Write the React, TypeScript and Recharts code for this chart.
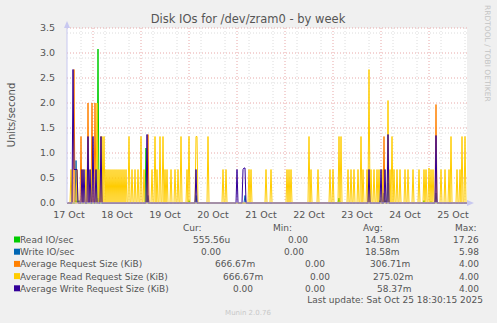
import React from 'react'
import { LineChart, Line, XAxis, YAxis, CartesianGrid } from 'recharts'

// x is a 30-minute slot counted from 17 Oct 11:00 (400 slots = one week view)
const slotCount = 400

const dayTicks = [2, 50, 98, 146, 194, 242, 290, 338, 386]
const dayLabels = ['17 Oct', '18 Oct', '19 Oct', '20 Oct', '21 Oct', '22 Oct', '23 Oct', '24 Oct', '25 Oct']
const yTicks = [0, 0.5, 1, 1.5, 2, 2.5, 3, 3.5]

// [slot, value] spikes, everything else sits at 0
const readIo: [number, number][] = [
  [9, 0.05], [11, 0.03], [31, 3.08], [79, 1.1], [122, 0.05], [272, 0.1],
  [313, 0.05], [318, 0.05], [357, 0.05], [364, 0.03],
]
const writeIo: [number, number][] = [
  [9, 0.85], [10, 0.05], [12, 0.05], [31, 0.1], [81, 0.15], [129, 0.15],
  [178, 0.15], [317, 0.2], [321, 0.4], [369, 0.2],
]
const avgReqSize: [number, number][] = [
  [7, 2.67], [14, 1.33], [21, 2.0], [25, 2.0], [28, 2.0], [34, 1.33],
  [81, 1.37], [317, 1.33], [369, 1.97],
]
const avgReadSize: [number, number][] = [
  [4, 0.67], [10, 0.67], [16, 0.67], [19, 0.67], [24, 0.67], [30, 2.0], [32, 0.67],
  [35, 1.33], [37, 1.33], [39, 0.67], [41, 0.67], [43, 0.67], [45, 0.67], [47, 0.67],
  [49, 0.67], [51, 0.67], [53, 0.67], [55, 0.67], [57, 0.67], [59, 0.67], [62, 1.33],
  [65, 0.67], [68, 0.67], [71, 0.67], [74, 1.33], [77, 0.67], [85, 0.67], [88, 1.33],
  [90, 0.67], [93, 1.33], [96, 1.33], [98, 0.67], [100, 0.67], [104, 0.67], [108, 0.67],
  [111, 0.67], [114, 1.33], [120, 0.67], [122, 1.33], [129, 1.33], [130, 1.33],
  [141, 1.33], [156, 0.67], [159, 0.67], [182, 0.67], [184, 0.67], [199, 0.67],
  [204, 0.67], [220, 0.67], [222, 0.67], [224, 0.67], [242, 1.33], [244, 0.67],
  [251, 0.67], [263, 0.67], [266, 0.67], [272, 1.33], [274, 1.33], [281, 0.67],
  [284, 0.67], [287, 0.67], [291, 0.67], [294, 1.33], [296, 0.67], [300, 0.67],
  [302, 2.67], [304, 0.67], [307, 0.67], [310, 0.67], [312, 0.67], [315, 0.67],
  [321, 2.05], [323, 0.67], [325, 1.33], [327, 0.67], [330, 0.67], [333, 0.67],
  [338, 0.67], [341, 0.67], [346, 0.67], [352, 0.67], [357, 0.67], [359, 0.67],
  [362, 0.7], [364, 0.67], [366, 0.67], [374, 0.67], [378, 0.67], [382, 0.67],
  [384, 1.33], [390, 0.67], [393, 0.67], [395, 1.33], [398, 1.33],
]
const avgWriteSize: [number, number][] = [
  [6, 2.67], [7, 0.67], [8, 0.67], [9, 0.67], [10, 0.67], [15, 0.67], [17, 0.67],
  [21, 1.33], [23, 0.67], [26, 1.33], [29, 0.67], [34, 1.33], [80, 1.37], [129, 0.67],
  [170, 0.67], [176, 0.67], [177, 0.7], [178, 0.7], [302, 0.67], [314, 0.67],
  [318, 0.67], [321, 1.37], [369, 1.35],
]

const legendRows = [
  { name: 'Read IO/sec', color: '#00cc00', cur: '555.56u', min: '0.00', avg: '14.58m', max: '17.26', xs: [193, 288, 365, 453] },
  { name: 'Write IO/sec', color: '#0066b3', cur: '0.00', min: '0.00', avg: '18.58m', max: '5.98', xs: [201, 284, 365, 459] },
  { name: 'Average Request Size (KiB)', color: '#ff8000', cur: '666.67m', min: '0.00', avg: '306.71m', max: '4.00', xs: [215, 305, 370, 459] },
  { name: 'Average Read Request Size (KiB)', color: '#ffcc00', cur: '666.67m', min: '0.00', avg: '275.02m', max: '4.00', xs: [223, 310, 373, 459] },
  { name: 'Average Write Request Size (KiB)', color: '#330099', cur: '0.00', min: '0.00', avg: '58.37m', max: '4.00', xs: [233, 305, 377, 459] },
]

const toMap = (pts: [number, number][]) => new Map(pts)
const mRead = toMap(readIo)
const mWrite = toMap(writeIo)
const mReq = toMap(avgReqSize)
const mReadReq = toMap(avgReadSize)
const mWriteReq = toMap(avgWriteSize)

const data = Array.from({ length: slotCount + 1 }, (_, s) => ({
  s,
  read: mRead.get(s) ?? 0,
  write: mWrite.get(s) ?? 0,
  req: mReq.get(s) ?? 0,
  readReq: mReadReq.get(s) ?? 0,
  writeReq: mWriteReq.get(s) ?? 0,
}))

// grid positions
const minorY: number[] = []
for (let i = 1; i <= 35; i++) if (i % 5 !== 0) minorY.push(i / 10)
const majorY = [0.5, 1, 1.5, 2, 2.5, 3, 3.5]
const minorX: number[] = []
for (let s = 2; s <= slotCount; s += 12) if ((s - 26) % 48 !== 0) minorX.push(s)
const majorX = [26, 74, 122, 170, 218, 266, 314, 362]

const txt = '#555'

export default function App() {
  return (
    <div style={{ position: 'relative', width: 497, height: 323, background: '#f0f0f0', fontFamily: 'DejaVu Sans' }}>
      <style>{'body{margin:0}'}</style>
      <LineChart width={497} height={323} data={data} margin={{ top: 28, right: 30, bottom: 100, left: 27 }}>
        <CartesianGrid fill="#ffffff" stroke="#dcdcdc" strokeDasharray="1 2"
          horizontalValues={minorY} verticalValues={minorX} />
        <CartesianGrid fill="none" stroke="#e8a8a8" strokeDasharray="1 2"
          horizontalValues={majorY} verticalValues={majorX} />
        <XAxis dataKey="s" type="number" domain={[0, slotCount]} ticks={dayTicks}
          tickFormatter={(v: number) => dayLabels[dayTicks.indexOf(v)] ?? ''}
          tickLine={false} axisLine={{ stroke: '#c8c8f0' }} height={20} tickMargin={2}
          tick={{ fill: txt, fontSize: 9.5 }} allowDataOverflow />
        <YAxis type="number" domain={[0, 3.5]} ticks={yTicks} width={40}
          tickFormatter={(v: number) => v.toFixed(1)} tickLine={false}
          axisLine={{ stroke: '#c8c8f0' }} tickMargin={6} tick={{ fill: txt, fontSize: 9.5 }} />
        <Line dataKey="read" stroke="#00cc00" strokeWidth={1} dot={false} isAnimationActive={false} />
        <Line dataKey="write" stroke="#0066b3" strokeWidth={1} dot={false} isAnimationActive={false} />
        <Line dataKey="req" stroke="#ff8000" strokeWidth={1} dot={false} isAnimationActive={false} />
        <Line dataKey="readReq" stroke="#ffcc00" strokeWidth={1} dot={false} isAnimationActive={false} />
        <Line dataKey="writeReq" stroke="#330099" strokeWidth={1} dot={false} isAnimationActive={false} />
      </LineChart>
      <svg width={497} height={323} style={{ position: 'absolute', left: 0, top: 0, pointerEvents: 'none' }}>
        <polygon points="64,28 67,21 70,28" fill="#c8c8f0" />
        <polygon points="467,200 474,203 467,206" fill="#c8c8f0" />
        <text x={248} y={23} textAnchor="middle" fontSize={11.5} fill={txt}>Disk IOs for /dev/zram0 - by week</text>
        <text transform="translate(15,115) rotate(-90)" textAnchor="middle" fontSize={10} fill={txt}>Units/second</text>
        <text transform="translate(485,5) rotate(90)" fontSize={7.5} fill="#c4c4c4">RRDTOOL / TOBI OETIKER</text>
        <text x={183} y={231} fontSize={9} fill={txt}>Cur:</text>
        <text x={273} y={231} fontSize={9} fill={txt}>Min:</text>
        <text x={363} y={231} fontSize={9} fill={txt}>Avg:</text>
        <text x={455} y={231} fontSize={9} fill={txt}>Max:</text>
        {legendRows.map((r, i) => {
          const y = 243 + i * 12.2
          return (
            <g key={r.name}>
              <rect x={14} y={y - 6.5} width={6} height={6} fill={r.color} />
              <text x={20} y={y} fontSize={9} fill={txt}>{r.name}</text>
              <text x={r.xs[0]} y={y} fontSize={9} fill={txt}>{r.cur}</text>
              <text x={r.xs[1]} y={y} fontSize={9} fill={txt}>{r.min}</text>
              <text x={r.xs[2]} y={y} fontSize={9} fill={txt}>{r.avg}</text>
              <text x={r.xs[3]} y={y} fontSize={9} fill={txt}>{r.max}</text>
            </g>
          )
        })}
        <text x={483} y={303} textAnchor="end" fontSize={9} fill={txt}>Last update: Sat Oct 25 18:30:15 2025</text>
        <text x={248} y={315} textAnchor="middle" fontSize={7} fill="#c8c8c8">Munin 2.0.76</text>
      </svg>
    </div>
  )
}
